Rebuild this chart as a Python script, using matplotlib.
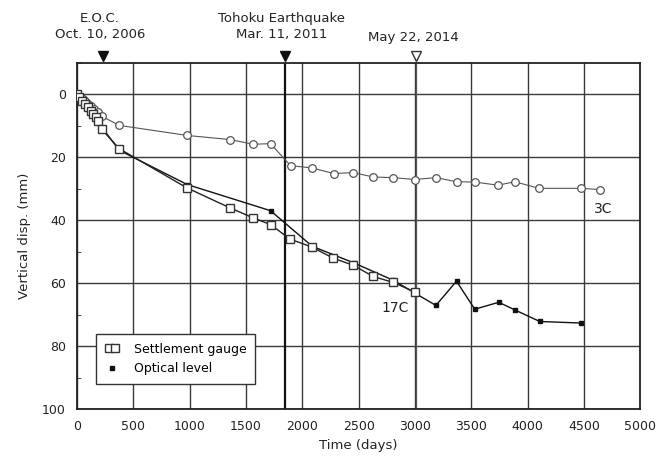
import matplotlib
matplotlib.use("Agg")
import matplotlib.pyplot as plt
from matplotlib.legend_handler import HandlerLine2D
from matplotlib.lines import Line2D
from matplotlib.ticker import MultipleLocator
import matplotlib.transforms as mtransforms

plt.rcParams['font.family'] = ['DejaVu Sans']

# Settlement at 3C (open circles)
days_3c = [0, 15, 30, 50, 70, 95, 120, 150, 185, 220, 375, 979, 1358, 1565, 1718,
           1896, 2083, 2280, 2452, 2630, 2807, 2999, 3186, 3369, 3531, 3738, 3886,
           4102, 4478, 4647]
disp_3c = [0, 0.5, 1.0, 1.5, 2.2, 3.0, 3.8, 4.8, 5.8, 7.0, 9.9, 13.1, 14.4, 15.9, 15.7,
           22.7, 23.4, 25.2, 24.9, 26.3, 26.5, 27.1, 26.5, 27.8, 27.9, 28.9, 27.8,
           29.9, 29.9, 30.3]

# Settlement gauge at 17C (open squares)
days_17c = [0, 20, 45, 70, 95, 120, 145, 170, 190, 219, 375, 973, 1358, 1565, 1718,
            1890, 2088, 2275, 2450, 2630, 2807, 2999]
disp_17c = [0, 1.0, 2.0, 3.0, 4.2, 5.3, 6.4, 7.2, 8.6, 11.1, 17.3, 29.7, 36.1, 39.3, 41.4,
            46.0, 48.6, 52.1, 54.3, 57.9, 59.8, 62.8]

# Optical levelling at 17C (small filled squares)
days_opt = [0, 30, 375, 979, 1718, 2088, 2458, 2807, 3186, 3369, 3531, 3744, 3886, 4108, 4478]
disp_opt = [0, 1.5, 17.8, 28.7, 37.0, 48.3, 53.6, 59.1, 67.1, 59.4, 68.3, 66.1, 68.5, 72.2, 72.7]

# Key dates (days) and their captions
event_days = [230, 1843, 3011]
event_text = ["E.O.C.\nOct. 10, 2006", "Tohoku Earthquake\nMar. 11, 2011", "May 22, 2014"]

fig = plt.figure(figsize=(6.58, 4.58), dpi=100)
ax = fig.add_axes([0.117, 0.107, 0.856, 0.756])

ax.set_xlim(0, 5000)
ax.set_ylim(100, -10)
ax.xaxis.set_major_locator(MultipleLocator(500))
ax.yaxis.set_major_locator(MultipleLocator(20))
ax.yaxis.set_minor_locator(MultipleLocator(10))
ax.grid(True, which='major', color='#3a3a3a', lw=1.0)
ax.tick_params(which='major', length=0, labelsize=9, pad=8, colors='#222222')
ax.tick_params(which='minor', length=3, direction='in', color='#333333')
for s in ax.spines.values():
    s.set_color('#222222')
    s.set_linewidth(1.3)

# Earthquake line through the plot
ax.axvline(event_days[1], color='#111111', lw=1.6, zorder=2)
ax.axvline(event_days[2], color='#555555', lw=0.9, zorder=2)

ax.plot(days_3c, disp_3c, '-o', color='#555555', lw=0.8, ms=5.5, mfc='white',
        mec='#555555', mew=0.9, zorder=3)
ax.plot(days_opt, disp_opt, '-s', color='#111111', lw=1.0, ms=3.5,
        mfc='#111111', mec='#111111', zorder=4)
ax.plot(days_17c, disp_17c, '-s', color='#222222', lw=1.0, ms=6, mfc='white',
        mec='#333333', mew=1.0, zorder=5)

ax.text(4670, 36.6, "3C", fontsize=10, ha='center', va='center', color='#222222')
ax.text(2820, 68, "17C", fontsize=10, ha='center', va='center', color='#222222')

# Event markers above the plot
trans = mtransforms.blended_transform_factory(ax.transData, ax.transAxes)
ax.plot(event_days[:2], [1.02, 1.02], 'v', color='#111111', ms=7, transform=trans,
        clip_on=False)
ax.plot([event_days[2]], [1.02], 'v', mfc='white', mec='#333333', ms=7, transform=trans,
        clip_on=False)
text_y = [1.105, 1.105, 1.072]
for d, t, y in zip(event_days, event_text, text_y):
    ax.text(d - 25, y, t, transform=trans, ha='center', va='center', fontsize=9.5,
            color='#222222', linespacing=1.3)

ax.set_xlabel("Time (days)", fontsize=9.5, labelpad=4, color='#222222')
ax.set_ylabel("Vertical disp. (mm)", fontsize=9.5, labelpad=8, color='#222222')

# Legend keys drawn as markers only
h_sg = Line2D([], [], ls='none', marker='s', ms=6, mfc='white', mec='#333333', mew=1.0)
h_opt = Line2D([], [], ls='none', marker='s', ms=3.5, mfc='#111111', mec='#111111')
leg = ax.legend([h_sg, h_opt], ["Settlement gauge", "Optical level"],
                handler_map={h_sg: HandlerLine2D(numpoints=2), h_opt: HandlerLine2D(numpoints=1)},
                loc='lower left', bbox_to_anchor=(0.023, 0.055), fontsize=9,
                handlelength=1.1, handletextpad=1.2, fancybox=False, framealpha=1,
                edgecolor='#333333', borderpad=0.7, labelspacing=0.5)
leg.get_frame().set_linewidth(1.0)

fig.savefig("out.png", dpi=100)
